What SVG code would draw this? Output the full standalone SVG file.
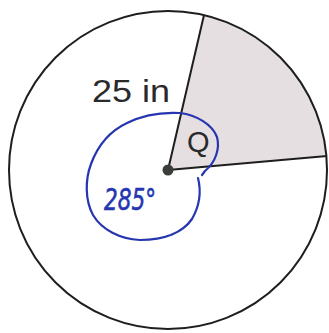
<svg xmlns="http://www.w3.org/2000/svg" width="329" height="333" viewBox="0 0 329 333">
<style>
.ln{stroke:#1e1e1e;stroke-width:2;fill:none}
.lbl{font-family:"Liberation Sans",Arial,sans-serif;fill:#2a2a2a}
.ink{stroke:#2536b0;stroke-width:2.2;fill:none;stroke-linecap:round;stroke-linejoin:round}
</style>
<rect width="329" height="333" fill="#ffffff"/>
<g id="sector">
<path d="M168,170 L204,15 A159,159 0 0 1 327,156 Z" fill="#e6dfe2"/>
</g>
<g id="circle">
<circle cx="168" cy="170" r="159" class="ln"/>
</g>
<g id="connectors">
<line x1="168" y1="170" x2="204" y2="15" class="ln"/>
<line x1="168" y1="170" x2="327" y2="156" class="ln"/>
</g>
<g id="center">
<circle cx="168" cy="170" r="5.5" fill="#3a3d3a"/>
</g>
<g id="labels">
<text x="92" y="102" class="lbl" font-size="32" textLength="78" lengthAdjust="spacingAndGlyphs">25 in</text>
<text x="187" y="152" class="lbl" font-size="29">Q</text>
</g>
<g id="annotation">
<path class="ink" d="M180,113 C196,115 212,124 217,137 C220,148 216,162 205,171 L202,175"/>
<path class="ink" d="M198,178 C201,190 200,205 192,219 C183,232 165,240 140,240 C120,239 102,230 93,215 C85,200 85,180 91,164 C98,145 110,131 127,123 C143,115 162,112 180,113"/>
<text x="104" y="210" font-family="'DejaVu Sans',sans-serif" font-style="italic" font-size="30" fill="#2536b0" stroke="#2536b0" stroke-width="0.6" textLength="52" lengthAdjust="spacingAndGlyphs">285°</text>
</g>
</svg>
